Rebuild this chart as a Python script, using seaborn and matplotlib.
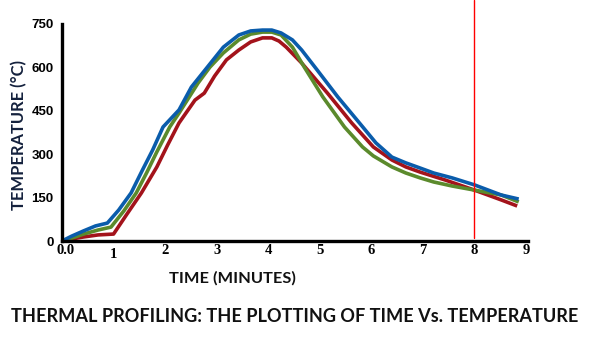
"""Thermal profile: three oven traces, time vs temperature."""

import matplotlib
matplotlib.use("Agg")
import matplotlib.pyplot as plt
import matplotlib.transforms as mtransforms
import pandas as pd
import seaborn as sns

# values (minutes, degrees C)
blue_time = [0, 0.19, 0.42, 0.65, 0.88, 1.10, 1.34, 1.56, 1.76, 1.96, 2.27, 2.51,
             2.82, 3.13, 3.43, 3.66, 3.89, 4.07, 4.25, 4.47, 4.65, 4.95, 5.35,
             5.77, 6.09, 6.40, 6.67, 6.95, 7.21, 7.57, 8.00, 8.52, 8.86]
blue_temp = [0, 17, 35, 52, 62, 107, 166, 245, 315, 394, 453, 532,
             601, 670, 712, 726, 729, 729, 719, 695, 660, 591, 498,
             408, 339, 290, 270, 252, 235, 218, 194, 159, 145]

green_time = [0, 0.19, 0.42, 0.70, 0.95, 1.20, 1.44, 1.64, 1.84, 2.09, 2.27, 2.64,
              2.87, 3.13, 3.43, 3.66, 3.89, 4.07, 4.25, 4.47, 4.70, 5.06, 5.48,
              5.83, 6.04, 6.40, 6.67, 6.95, 7.21, 7.57, 8.00, 8.52, 8.86]
green_temp = [0, 10, 24, 38, 48, 104, 166, 235, 308, 394, 442, 546,
              601, 650, 695, 715, 722, 722, 712, 670, 601, 498, 394,
              325, 294, 256, 235, 218, 204, 190, 176, 159, 135]

red_time = [0, 0.19, 0.42, 0.70, 1.00, 1.26, 1.54, 1.84, 2.05, 2.27, 2.58, 2.76,
            2.96, 3.19, 3.43, 3.66, 3.89, 4.07, 4.21, 4.35, 4.65, 5.15, 5.62,
            6.04, 6.40, 6.67, 6.95, 7.43, 8.00, 8.52, 8.83]
red_temp = [0, 7, 14, 21, 24, 93, 166, 256, 332, 408, 487, 511,
            570, 626, 660, 688, 702, 702, 691, 670, 615, 511, 408,
            325, 280, 256, 238, 211, 176, 142, 121]

x_ticks = [0, 1, 2, 3, 4, 5, 6, 7, 8, 9]
x_tick_labels = ["0.0", "1", "2", "3", "4", "5", "6", "7", "8", "9"]
y_ticks = [0, 150, 300, 450, 600, 750]
marker_time = 8

colors = {"blue": "#0a5cab", "green": "#5b8a2c", "red": "#a3131b"}

frames = []
for name, t, v in [("red", red_time, red_temp),
                   ("green", green_time, green_temp),
                   ("blue", blue_time, blue_temp)]:
    frames.append(pd.DataFrame({"time": t, "temp": v, "trace": name}))
df = pd.concat(frames, ignore_index=True)

sns.set_theme(style="white")
plt.rcParams["font.family"] = ["Liberation Sans", "DejaVu Sans"]

fig = plt.figure(figsize=(6.07, 3.52), dpi=100)
ax = fig.add_axes([62 / 607, 1 - 241 / 352, (528 - 62) / 607, 217 / 352])

sns.lineplot(data=df, x="time", y="temp", hue="trace", palette=colors,
             sort=False, estimator=None, linewidth=2.6, legend=False, ax=ax,
             solid_joinstyle="round", solid_capstyle="butt")

ax.axvline(marker_time, ymin=0.015, ymax=241 / 217, color="#ff0000",
           linewidth=1.0, clip_on=False)

ax.set_xlim(0, 9.04)
ax.set_ylim(0, 750)
sns.despine(ax=ax)
for side in ["left", "bottom"]:
    ax.spines[side].set_color("black")
    ax.spines[side].set_linewidth(2.4)

ax.set_xticks(x_ticks)
ax.set_xticklabels(x_tick_labels, fontfamily="Liberation Serif",
                   fontweight="bold", fontsize=10.5, color="black")
ax.set_yticks(y_ticks)
ax.set_yticklabels([str(v) for v in y_ticks], fontweight="bold",
                   fontsize=9.5, color="black")
ax.tick_params(axis="both", length=0, pad=2)
ax.tick_params(axis="y", pad=6)

# the reference nudges "0.0" right and drops "1" a little
xlabels = ax.get_xticklabels()
xlabels[0].set_transform(xlabels[0].get_transform() +
                         mtransforms.ScaledTranslation(4 / 100, 0, fig.dpi_scale_trans))
xlabels[1].set_transform(xlabels[1].get_transform() +
                         mtransforms.ScaledTranslation(0, -4 / 100, fig.dpi_scale_trans))

ax.set_xlabel("")
ax.set_ylabel("")
fig.text(232 / 607, 1 - 278 / 352, "TIME (MINUTES)", ha="center", va="center",
         fontsize=11.8, fontweight="bold", fontfamily="Lato", color="#111111")
fig.text(19 / 607, 1 - 135 / 352, "TEMPERATURE (°C)", ha="center", va="center",
         rotation=90, fontsize=11.9, fontweight="bold", fontfamily="Lato",
         color="#14213d")
fig.text(295 / 607, 1 - 316 / 352,
         "THERMAL PROFILING: THE PLOTTING OF TIME Vs. TEMPERATURE",
         ha="center", va="center", fontsize=13.1, fontweight="bold",
         fontfamily="Lato", color="#111111")

fig.savefig("out.png", dpi=100)
